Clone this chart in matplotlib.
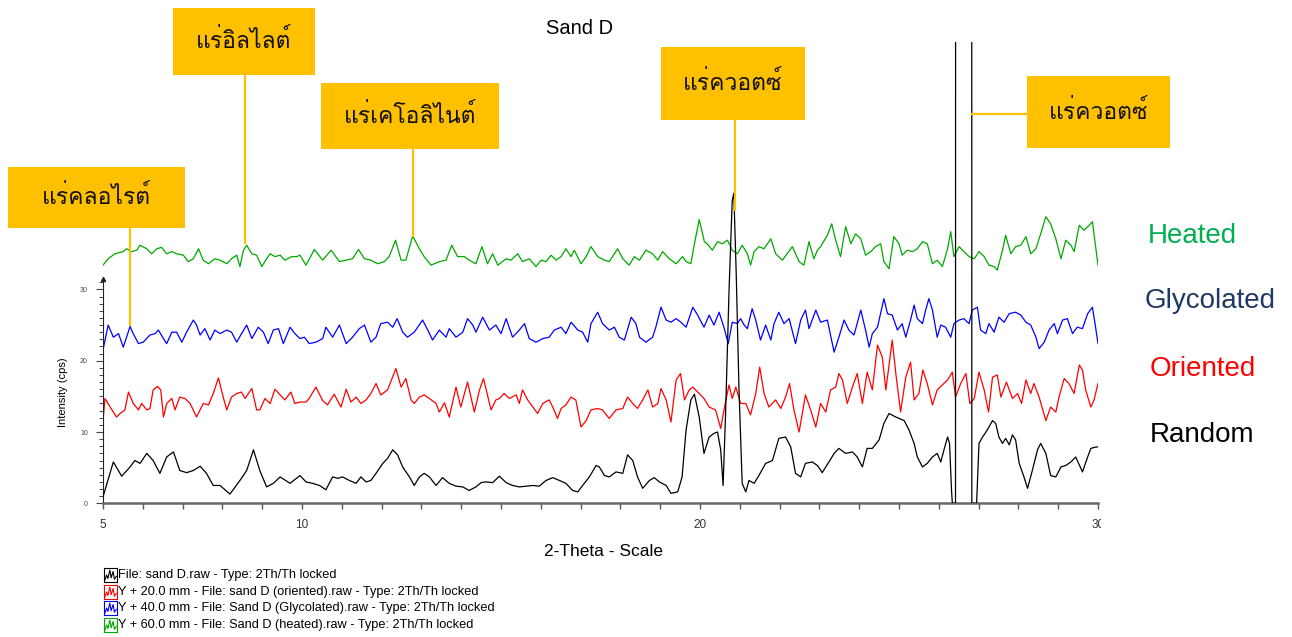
import matplotlib
matplotlib.use('Agg')
import matplotlib.pyplot as plt
from matplotlib.patches import Rectangle
from matplotlib.transforms import Bbox
from matplotlib import font_manager
from matplotlib.ft2font import FT2Font

# Pick any installed font that has Thai glyphs for the mineral labels
thai_family = 'DejaVu Sans'
for f in font_manager.fontManager.ttflist:
    try:
        if 0x0E41 in FT2Font(f.fname).get_charmap():
            thai_family = f.name
            break
    except Exception:
        pass

plt.rcParams['font.family'] = ['Liberation Sans', thai_family]

# Random (black) - no offset
random_x = [5.00, 5.26, 5.47, 5.68, 5.80, 5.93, 6.10, 6.26, 6.43, 6.60, 6.77, 6.93, 7.10, 7.27, 7.44, 7.60, 7.77, 7.94,
            8.19, 8.44, 8.61, 8.78, 8.94, 9.11, 9.28, 9.45, 9.70, 9.95, 10.10, 10.27, 10.44, 10.60, 10.77, 10.90, 11.02,
            11.19, 11.36, 11.48, 11.61, 11.73, 11.86, 12.03, 12.15, 12.28, 12.40, 12.53, 12.70, 12.82, 12.95, 13.07,
            13.20, 13.37, 13.53, 13.70, 13.87, 14.04, 14.20, 14.37, 14.50, 14.62, 14.79, 14.96, 15.13, 15.29, 15.46,
            15.63, 15.80, 15.96, 16.13, 16.30, 16.47, 16.63, 16.80, 16.93, 17.05, 17.22, 17.39, 17.47, 17.60, 17.72,
            17.89, 18.06, 18.18, 18.31, 18.43, 18.56, 18.73, 18.85, 18.98, 19.15, 19.27, 19.44, 19.55, 19.65, 19.77,
            19.86, 19.98, 20.10, 20.23, 20.35, 20.44, 20.52, 20.58, 20.64, 20.73, 20.81, 20.85, 20.91, 20.98, 21.06,
            21.15, 21.23, 21.36, 21.48, 21.65, 21.82, 21.98, 22.15, 22.28, 22.40, 22.53, 22.65, 22.82, 22.95, 23.07,
            23.24, 23.37, 23.49, 23.66, 23.83, 23.95, 24.08, 24.20, 24.33, 24.50, 24.62, 24.75, 24.92, 25.13, 25.25,
            25.38, 25.46, 25.59, 25.71, 25.84, 25.96, 26.05, 26.13, 26.22, 26.27, 26.32, 26.34, 26.42, 26.43, 26.82,
            26.83, 26.95, 27.01, 27.10, 27.22, 27.35, 27.43, 27.51, 27.60, 27.68, 27.77, 27.85, 27.93, 28.02, 28.14,
            28.23, 28.35, 28.48, 28.56, 28.69, 28.81, 28.94, 29.07, 29.19, 29.32, 29.44, 29.61, 29.74, 29.82, 29.95,
            30.00]
random_y = [0.9, 5.8, 3.8, 5.1, 6.0, 5.6, 7.0, 6.0, 4.2, 6.5, 7.2, 4.6, 4.3, 4.6, 5.2, 4.2, 2.5, 2.5,
            1.3, 3.2, 4.6, 7.5, 4.6, 2.3, 2.8, 3.7, 2.8, 3.9, 3.0, 2.8, 2.5, 1.9, 3.7, 3.5, 3.7,
            3.2, 2.8, 3.7, 3.0, 3.2, 4.2, 5.6, 6.3, 7.5, 6.8, 5.1, 3.7, 2.5, 3.7, 4.2,
            3.7, 2.5, 3.6, 2.8, 2.4, 2.3, 1.8, 2.3, 2.9, 3.0, 2.9, 3.8, 2.9, 2.5, 2.3,
            2.4, 2.5, 2.4, 3.2, 3.6, 3.2, 2.8, 1.8, 1.6, 2.5, 3.7, 5.3, 5.1, 3.9, 3.7,
            4.4, 4.2, 6.8, 6.0, 3.7, 2.1, 3.2, 3.6, 3.0, 2.5, 1.4, 1.6, 3.7, 10.3, 14.5,
            15.3, 12.1, 7.0, 9.3, 9.8, 10.0, 7.5, 2.5, 12.1, 29.9, 42.5, 43.5, 32.2, 15.9, 2.8,
            1.6, 3.2, 2.8, 3.9, 5.6, 6.0, 9.1, 9.3, 7.9, 4.2, 3.7, 5.6, 5.8, 5.3, 4.3,
            5.8, 7.0, 7.7, 7.0, 7.2, 6.5, 5.1, 7.7, 7.7, 8.9, 11.2, 12.6, 12.1, 11.6, 10.3,
            8.4, 6.5, 5.1, 5.6, 6.5, 7.0, 5.8, 7.5, 9.3, 8.4, 1.8, 0.0, 0.0, 400.0, 400.0,
            0.0, 0.0, 8.4, 9.3, 10.3, 11.6, 11.2, 9.3, 8.4, 9.1, 8.2, 9.6, 8.9, 5.6, 3.7,
            2.1, 4.6, 7.5, 8.4, 7.0, 3.9, 3.7, 5.1, 5.3, 5.8, 6.5, 4.4, 6.5, 7.7, 7.9,
            7.9]

# Oriented (red) - Y + 20 mm
oriented_x = [5.00, 5.05, 5.18, 5.26, 5.34, 5.43, 5.55, 5.64, 5.76, 5.89, 5.97, 6.10, 6.18, 6.26, 6.37, 6.45, 6.52,
              6.60, 6.73, 6.81, 6.93, 7.06, 7.19, 7.35, 7.44, 7.52, 7.65, 7.77, 7.90, 8.02, 8.11, 8.23, 8.36, 8.48,
              8.57, 8.74, 8.86, 8.94, 9.07, 9.20, 9.32, 9.45, 9.57, 9.72, 9.82, 9.95, 10.10, 10.18, 10.35, 10.52,
              10.64, 10.81, 10.98, 11.11, 11.23, 11.36, 11.48, 11.61, 11.73, 11.86, 11.98, 12.15, 12.36, 12.49, 12.61,
              12.74, 12.82, 12.95, 13.07, 13.20, 13.37, 13.45, 13.58, 13.70, 13.87, 13.99, 14.16, 14.33, 14.46, 14.56,
              14.75, 14.87, 14.96, 15.08, 15.21, 15.38, 15.46, 15.54, 15.67, 15.80, 15.92, 16.05, 16.21, 16.30, 16.42,
              16.51, 16.63, 16.76, 16.88, 17.01, 17.14, 17.26, 17.43, 17.55, 17.72, 17.89, 18.06, 18.18, 18.31, 18.43,
              18.56, 18.69, 18.81, 18.94, 19.02, 19.15, 19.27, 19.40, 19.51, 19.61, 19.73, 19.82, 19.98, 20.10, 20.23,
              20.39, 20.52, 20.64, 20.73, 20.81, 20.90, 21.02, 21.15, 21.27, 21.40, 21.50, 21.61, 21.73, 21.90, 22.03,
              22.15, 22.25, 22.36, 22.49, 22.65, 22.78, 22.91, 23.03, 23.16, 23.28, 23.41, 23.49, 23.58, 23.70, 23.83,
              23.95, 24.08, 24.20, 24.33, 24.46, 24.58, 24.67, 24.83, 24.92, 25.04, 25.17, 25.29, 25.38, 25.50, 25.60,
              25.71, 25.84, 25.96, 26.09, 26.22, 26.34, 26.42, 26.55, 26.68, 26.78, 26.89, 27.01, 27.14, 27.25, 27.35,
              27.47, 27.56, 27.70, 27.85, 27.98, 28.08, 28.19, 28.31, 28.39, 28.52, 28.69, 28.81, 28.94, 29.02, 29.15,
              29.27, 29.40, 29.53, 29.61, 29.69, 29.82, 29.90, 30.00]
oriented_y = [11.6, 14.7, 13.5, 12.8, 12.1, 12.6, 13.1, 15.6, 14.0, 13.1, 14.0, 13.1, 13.3, 15.9, 16.4, 15.9, 12.1,
              14.0, 14.7, 13.1, 14.9, 14.7, 14.0, 12.1, 13.1, 14.0, 13.8, 15.4, 17.6, 14.9, 13.1, 14.9, 15.4, 15.6,
              14.7, 16.1, 13.1, 13.1, 14.7, 14.0, 16.0, 15.2, 14.5, 15.6, 14.0, 14.2, 14.2, 14.7, 16.3, 14.4,
              13.8, 15.3, 13.5, 16.0, 14.2, 14.9, 14.0, 14.5, 15.4, 16.8, 15.2, 15.9, 18.9, 16.3, 17.5,
              14.5, 14.0, 14.9, 15.2, 14.7, 14.0, 12.8, 14.1, 12.1, 16.3, 13.5, 17.0, 12.8, 15.9, 17.5,
              13.1, 14.5, 14.7, 15.4, 14.7, 15.2, 14.0, 15.9, 14.5, 13.5, 12.6, 14.0, 14.5, 13.5, 11.9,
              13.3, 13.8, 14.9, 14.5, 10.7, 11.6, 13.1, 13.3, 13.1, 11.9, 13.1, 13.3, 14.9, 14.0, 13.3,
              14.5, 15.9, 13.5, 14.0, 16.1, 14.5, 11.4, 17.3, 18.2, 14.5, 15.9, 16.3, 15.4, 14.7, 13.5,
              13.1, 10.5, 14.2, 16.6, 14.7, 16.3, 14.0, 14.0, 12.4, 15.4, 19.1, 15.4, 13.5, 14.5, 13.3,
              14.9, 16.8, 13.1, 10.0, 15.2, 13.1, 10.7, 14.0, 12.8, 15.9, 16.3, 18.2, 17.3, 14.0, 16.3,
              18.2, 14.0, 18.4, 15.9, 22.2, 20.5, 15.9, 22.9, 18.2, 12.8, 17.7, 19.8, 14.5, 15.4, 18.7,
              16.8, 13.8, 15.9, 16.6, 17.3, 18.4, 14.9, 16.8, 18.2, 14.0, 14.7, 18.4, 15.9, 12.8, 17.7,
              18.0, 14.9, 17.0, 14.7, 15.4, 14.0, 17.3, 15.4, 16.8, 14.9, 11.6, 13.5, 12.8, 14.9, 17.5,
              16.8, 15.4, 19.4, 18.7, 15.9, 13.5, 14.5, 16.8]

# Glycolated (blue) - Y + 40 mm
glycolated_x = [5.00, 5.13, 5.26, 5.39, 5.51, 5.68, 5.76, 5.89, 6.01, 6.18, 6.31, 6.39, 6.52, 6.60, 6.73, 6.85, 6.98,
                7.10, 7.27, 7.35, 7.44, 7.56, 7.69, 7.81, 7.94, 8.11, 8.23, 8.36, 8.48, 8.61, 8.74, 8.90, 9.03, 9.15,
                9.28, 9.41, 9.53, 9.70, 9.82, 9.95, 10.06, 10.18, 10.35, 10.52, 10.60, 10.77, 10.94, 11.11, 11.27,
                11.44, 11.57, 11.73, 11.86, 11.98, 12.15, 12.28, 12.39, 12.53, 12.65, 12.82, 13.03, 13.16, 13.28,
                13.45, 13.62, 13.70, 13.87, 14.04, 14.16, 14.29, 14.37, 14.54, 14.71, 14.87, 15.00, 15.13, 15.29,
                15.46, 15.59, 15.71, 15.88, 16.05, 16.21, 16.34, 16.51, 16.63, 16.76, 16.93, 17.05, 17.18, 17.26,
                17.43, 17.55, 17.72, 17.85, 17.97, 18.10, 18.27, 18.39, 18.48, 18.64, 18.81, 18.89, 19.02, 19.15,
                19.27, 19.40, 19.52, 19.65, 19.82, 19.94, 20.10, 20.23, 20.35, 20.48, 20.60, 20.71, 20.81, 20.94,
                21.02, 21.11, 21.19, 21.31, 21.40, 21.52, 21.65, 21.78, 21.86, 21.98, 22.11, 22.24, 22.40, 22.53,
                22.65, 22.74, 22.91, 23.03, 23.20, 23.37, 23.49, 23.62, 23.74, 23.87, 24.04, 24.16, 24.25, 24.33,
                24.46, 24.62, 24.71, 24.83, 24.96, 25.08, 25.17, 25.29, 25.38, 25.46, 25.59, 25.67, 25.75, 25.84,
                25.96, 26.05, 26.17, 26.30, 26.38, 26.51, 26.63, 26.76, 26.84, 26.97, 27.05, 27.18, 27.26, 27.39,
                27.51, 27.64, 27.77, 27.93, 28.06, 28.19, 28.31, 28.44, 28.52, 28.65, 28.77, 28.90, 28.98, 29.11,
                29.23, 29.36, 29.48, 29.61, 29.74, 29.86, 29.95, 30.00]
glycolated_y = [21.5, 25.0, 23.3, 23.8, 21.9, 24.8, 23.8, 22.4, 22.6, 23.6, 23.8, 24.3, 23.1, 22.4, 24.0, 24.0, 22.6,
                24.0, 25.7, 25.0, 23.6, 24.5, 22.9, 24.3, 23.8, 24.3, 24.0, 22.6, 23.8, 25.0, 23.1, 24.7, 24.0, 22.4,
                24.3, 24.5, 22.4, 24.7, 23.8, 23.1, 23.3, 22.4, 22.6, 23.1, 24.7, 23.3, 25.0, 22.4, 23.3,
                24.5, 25.0, 22.6, 23.3, 25.2, 25.4, 24.7, 25.9, 24.0, 23.3, 24.0, 25.7, 24.3, 22.9,
                24.3, 23.3, 24.5, 23.3, 24.0, 25.9, 25.0, 24.0, 26.1, 24.3, 25.0, 23.8, 25.9, 23.3,
                24.3, 25.2, 23.1, 22.6, 23.1, 23.3, 24.3, 24.7, 23.8, 25.4, 24.3, 24.0, 22.6, 25.2,
                26.8, 25.2, 24.3, 24.7, 23.3, 22.9, 26.1, 25.2, 23.3, 22.6, 23.3, 24.7, 27.5, 25.7,
                25.4, 25.9, 25.4, 24.7, 27.5, 26.4, 24.7, 26.4, 25.0, 26.8, 24.7, 22.4, 25.4, 25.2,
                25.9, 25.0, 24.5, 27.3, 25.7, 22.9, 25.0, 22.9, 25.2, 26.8, 25.2, 25.9, 22.4, 25.7,
                27.1, 24.5, 27.1, 25.4, 25.7, 21.2, 23.3, 25.7, 24.3, 23.6, 27.1, 24.3, 21.9, 23.8,
                24.7, 28.7, 26.6, 26.4, 24.3, 25.2, 23.3, 25.7, 27.8, 25.9, 25.2, 27.1, 28.7, 27.1,
                23.3, 25.0, 24.7, 23.3, 25.2, 25.7, 25.9, 25.2, 27.1, 27.5, 24.3, 23.8, 25.2, 24.0,
                26.1, 25.4, 26.6, 26.8, 26.4, 25.4, 25.0, 23.3, 21.7, 22.6, 24.3, 25.2, 23.8, 25.7,
                25.9, 23.8, 24.7, 24.5, 26.6, 27.5, 24.3, 22.4]

# Heated (green) - Y + 60 mm
heated_x = [5.00, 5.13, 5.30, 5.51, 5.59, 5.72, 5.85, 5.93, 6.10, 6.22, 6.35, 6.47, 6.60, 6.73, 6.85, 7.02, 7.14,
            7.27, 7.40, 7.52, 7.65, 7.81, 7.94, 8.11, 8.23, 8.36, 8.44, 8.53, 8.61, 8.74, 8.86, 8.99, 9.11, 9.20,
            9.32, 9.45, 9.57, 9.74, 9.87, 9.95, 10.10, 10.31, 10.52, 10.73, 10.94, 11.11, 11.27, 11.42, 11.57,
            11.73, 11.90, 12.07, 12.19, 12.35, 12.49, 12.61, 12.78, 12.95, 13.07, 13.24, 13.45, 13.62, 13.76,
            13.91, 14.08, 14.20, 14.37, 14.52, 14.66, 14.79, 14.92, 15.13, 15.25, 15.42, 15.54, 15.71, 15.88,
            16.01, 16.13, 16.26, 16.38, 16.51, 16.63, 16.76, 16.84, 17.01, 17.14, 17.26, 17.43, 17.60, 17.72,
            17.93, 18.06, 18.22, 18.35, 18.48, 18.64, 18.81, 18.94, 19.06, 19.23, 19.40, 19.56, 19.65, 19.77,
            19.86, 19.98, 20.11, 20.18, 20.31, 20.44, 20.56, 20.69, 20.81, 20.94, 21.06, 21.19, 21.27, 21.36,
            21.48, 21.61, 21.78, 21.90, 22.07, 22.19, 22.32, 22.49, 22.61, 22.74, 22.86, 22.95, 23.03, 23.20,
            23.31, 23.41, 23.53, 23.66, 23.79, 23.91, 24.04, 24.16, 24.29, 24.41, 24.54, 24.62, 24.75, 24.87,
            25.00, 25.08, 25.21, 25.34, 25.46, 25.59, 25.71, 25.84, 25.96, 26.09, 26.22, 26.30, 26.38, 26.51,
            26.63, 26.76, 26.89, 27.01, 27.14, 27.26, 27.39, 27.47, 27.60, 27.68, 27.81, 27.93, 28.06, 28.19,
            28.31, 28.44, 28.56, 28.69, 28.81, 28.94, 29.07, 29.19, 29.32, 29.40, 29.53, 29.65, 29.78, 29.86,
            29.95, 30.00]
heated_y = [33.4, 34.3, 35.0, 35.3, 35.7, 35.3, 35.5, 36.2, 35.7, 35.0, 35.7, 35.9, 35.0, 35.3, 35.0, 34.8, 33.9,
            34.3, 35.7, 34.1, 33.6, 34.3, 34.1, 33.6, 34.3, 34.8, 33.2, 35.5, 36.2, 35.0, 34.8, 33.2, 34.3, 35.0,
            34.6, 34.8, 34.1, 34.6, 34.6, 34.8, 33.4, 35.6, 34.1, 35.5, 33.9, 34.1, 34.3, 35.6, 34.3,
            34.1, 33.6, 33.9, 34.6, 36.9, 34.1, 34.1, 37.5, 35.7, 34.6, 33.4, 33.9, 34.1, 36.2,
            34.6, 34.6, 34.1, 33.6, 36.0, 33.6, 35.0, 33.4, 34.3, 34.1, 35.0, 33.9, 34.3, 33.2,
            34.1, 33.9, 34.8, 34.1, 34.6, 35.7, 34.6, 35.5, 33.6, 34.6, 36.0, 34.6, 34.1, 33.9,
            35.7, 34.3, 33.4, 34.6, 34.1, 35.5, 35.0, 34.1, 35.3, 34.3, 33.6, 34.6, 33.9, 33.6,
            36.4, 39.8, 36.7, 36.4, 35.5, 36.7, 36.4, 36.9, 35.5, 35.0, 36.2, 35.0, 33.4, 35.3,
            36.0, 35.7, 37.1, 35.0, 34.1, 35.0, 36.0, 33.9, 33.4, 36.7, 34.3, 35.5, 36.0, 37.6,
            39.2, 36.9, 34.6, 38.8, 36.4, 37.8, 37.1, 34.8, 35.3, 36.0, 36.4, 33.9, 32.9, 37.4,
            36.4, 34.8, 35.5, 35.3, 35.7, 36.7, 36.4, 33.6, 34.1, 33.2, 35.7, 38.1, 34.6, 36.0,
            35.3, 34.6, 34.3, 35.3, 34.6, 33.4, 33.2, 32.7, 35.5, 37.6, 35.0, 36.0, 36.2, 37.4,
            35.0, 35.7, 37.8, 40.2, 39.2, 37.1, 34.3, 36.9, 36.2, 35.3, 39.0, 38.3, 39.0, 39.5,
            35.5, 33.4]

series_names = ['Random', 'Oriented', 'Glycolated', 'Heated']
series_colors = ['black', '#ff0000', '#0000ff', '#00a800']
label_colors = ['black', '#ff0000', '#203864', '#00b050']
legend_texts = ['File: sand D.raw - Type: 2Th/Th locked',
                'Y + 20.0 mm - File: sand D (oriented).raw - Type: 2Th/Th locked',
                'Y + 40.0 mm - File: Sand D (Glycolated).raw - Type: 2Th/Th locked',
                'Y + 60.0 mm - File: Sand D (heated).raw - Type: 2Th/Th locked']

# Mineral call-outs: peak position and intensity where the leader line ends
mineral_names = ['แร่คลอไรต์', 'แร่อิลไลต์', 'แร่เคโอลิไนต์', 'แร่ควอตซ์', 'แร่ควอตซ์']
mineral_pos = [5.68, 8.57, 12.79, 20.88, 26.83]
mineral_int = [25.0, 36.5, 37.5, 41.1, 54.6]
# box layout in figure pixels from top-left: left, top, width, height
mineral_boxes = [(8, 167, 177, 61), (173, 8, 142, 67), (321, 83, 178, 66), (661, 47, 144, 73), (1027, 76, 143, 72)]

W, H = 1292, 637
fig = plt.figure(figsize=(W / 100, H / 100), dpi=100)
ax = fig.add_axes([103 / W, (H - 503.3) / H, 995 / W, 461.3 / H])
ax.set_xlim(5, 30)
ax.set_ylim(0, 64.7)

xs = [random_x, oriented_x, glycolated_x, heated_x]
ys = [random_y, oriented_y, glycolated_y, heated_y]
for i in [3, 2, 1, 0]:
    ax.plot(xs[i], ys[i], color=series_colors[i], linewidth=0.9, zorder=2 + (i == 0))

# Axes styling
for s in ['top', 'right']:
    ax.spines[s].set_visible(False)
ax.spines['left'].set_bounds(0, 31.4)
ax.spines['left'].set_color('#222222')
ax.spines['left'].set_linewidth(0.8)
ax.spines['bottom'].set_color('#666666')
ax.spines['bottom'].set_linewidth(1.8)
ax.plot([5], [31.4], marker='^', color='#222222', markersize=3, clip_on=False)

ax.set_xticks([5, 10, 20, 30])
ax.set_xticks(range(5, 31), minor=True)
ax.tick_params(axis='x', which='both', direction='out', length=4, width=1, color='#555555',
               labelsize=8.5, labelcolor='#333333', pad=7)
ax.set_yticks([0, 10, 20, 30])
ax.set_yticks(range(0, 32), minor=True)
ax.tick_params(axis='y', which='major', length=5, width=0.8, color='#444444', labelsize=5, labelcolor='#444444', pad=6)
ax.tick_params(axis='y', which='minor', length=3, width=0.7, color='#444444')
for t in ax.xaxis.get_major_ticks():
    t.label1.set_clip_on(True)
    t.label1.set_clip_box(Bbox.from_extents(0, 0, 1101, H))

ax.set_ylabel('Intensity (cps)', fontsize=8)
ax.yaxis.set_label_coords(-0.035, 0.241)
fig.text(603 / W, 1 - 551 / H, '2-Theta - Scale', ha='center', va='center', fontsize=12.5)
fig.text(580 / W, 1 - 28 / H, 'Sand D', ha='center', va='center', fontsize=14.5)

# Series names on the right
label_y = [435, 369, 301, 236]
label_x = [1150, 1150, 1145, 1148]
for i in range(4):
    fig.text(label_x[i] / W, 1 - label_y[i] / H, series_names[i], color=label_colors[i],
             ha='left', va='center', fontsize=20)

# Mineral call-out boxes and leader lines
inv = ax.transData.inverted()
for name, pos, inten, (bl, bt, bw, bh) in zip(mineral_names, mineral_pos, mineral_int, mineral_boxes):
    fig.patches.append(Rectangle((bl / W, 1 - (bt + bh) / H), bw / W, bh / H, transform=fig.transFigure,
                                 facecolor='#ffc000', edgecolor='none', zorder=5))
    fig.text((bl + bw / 2) / W, 1 - (bt + bh / 2) / H, name, ha='center', va='center',
             fontsize=16.5, color='#111111', zorder=6, family=[thai_family])
    if bl > 900:
        box_x, _ = inv.transform((bl, 0))
        ax.plot([pos, box_x], [inten, inten], color='#ffc000', linewidth=1.6, zorder=4, clip_on=False)
    else:
        _, box_y = inv.transform((0, H - (bt + bh)))
        ax.plot([pos, pos], [inten, box_y], color='#ffc000', linewidth=1.6, zorder=4, clip_on=False)

# File legend at the bottom
legend_rows = [575, 592, 608, 625]
for i in range(4):
    iax = fig.add_axes([104 / W, 1 - (legend_rows[i] + 7) / H, 13 / W, 14 / H])
    iax.plot([0.05, 0.2, 0.3, 0.45, 0.55, 0.7, 0.8, 0.95], [0.1, 0.5, 0.25, 0.85, 0.3, 0.75, 0.2, 0.4],
             color=series_colors[i], linewidth=0.8)
    iax.set_xlim(0, 1)
    iax.set_ylim(0, 1)
    iax.set_xticks([])
    iax.set_yticks([])
    for s in iax.spines.values():
        s.set_color(series_colors[i])
        s.set_linewidth(0.8)
    fig.text(118 / W, 1 - legend_rows[i] / H, legend_texts[i], ha='left', va='center', fontsize=9.2)

fig.savefig('out.png', dpi=100)
